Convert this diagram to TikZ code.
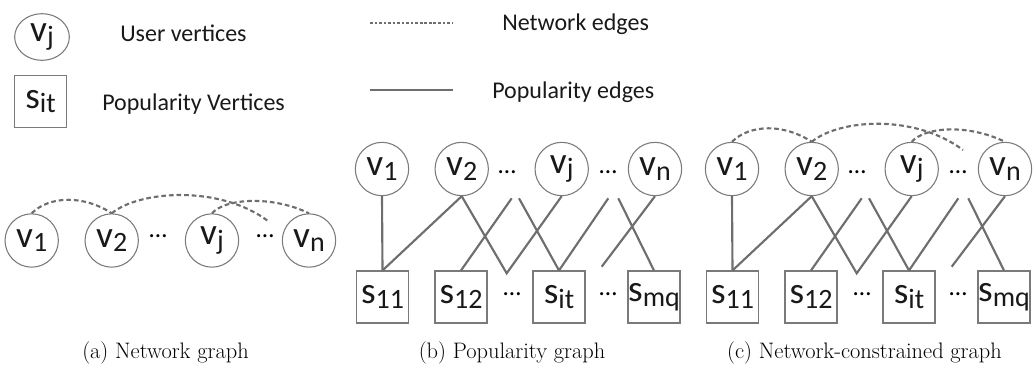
\documentclass[tikz,border=0pt]{standalone}
\usepackage{fontspec}
\usepackage{xcolor}
\usepackage{tikz}
\usetikzlibrary{shapes.geometric, positioning, calc}

\newfontfamily\calibri{Carlito}
\definecolor{edgegray}{HTML}{6E6E6E}
\definecolor{linegray}{HTML}{7A7A7A}
\newcommand{\uv}[1]{{\fontsize{28}{28}\selectfont v}\raisebox{-3.5pt}{\fontsize{21}{21}\selectfont #1}}
\newcommand{\pv}[1]{{\fontsize{28}{28}\selectfont s}\raisebox{-3.5pt}{\fontsize{21}{21}\selectfont #1}}

\begin{document}
\begin{tikzpicture}[
    x=0.75pt, y=-0.75pt,
    uvert/.style={circle, draw=linegray, line width=0.8pt, minimum size=40pt, inner sep=0pt, font=\calibri, text=black!90},
    pvert/.style={rectangle, draw=linegray, line width=0.8pt, minimum size=39pt, inner sep=0pt, font=\calibri, text=black!90},
    netedge/.style={draw=edgegray, line width=1.6pt, dash pattern=on 3.5pt off 2.2pt},
    popedge/.style={draw=edgegray, line width=1.6pt},
    legendtext/.style={anchor=base west, inner sep=0pt, font=\calibri\fontsize{18}{20}\selectfont, text=black!90},
    dotsnode/.style={inner sep=0pt, font=\calibri\fontsize{19}{19}\selectfont},
    caption/.style={anchor=base, inner sep=0pt, font=\fontsize{16.8}{18}\selectfont}
]
    \useasboundingbox (0,0) rectangle (1036,368);

    % Legend: vertices
    \node (lu) [uvert, ellipse, minimum width=41pt, minimum height=35pt] at (42,37) {\uv{j}};
    \node (lutext) [legendtext] at (120,41) {User vertices};
    \node (lp) [pvert] at (40.5,101.5) {\pv{it}};
    \node (lptext) [legendtext] at (102,110) {Popularity Vertices};

    % Legend: edges
    \coordinate (lnet1) at (370,23);
    \coordinate (lnet2) at (453,23);
    \coordinate (lpop1) at (370,90);
    \coordinate (lpop2) at (453,90);
    \draw [draw=edgegray, line width=1.1pt, dash pattern=on 2pt off 1.4pt] (lnet1) -- (lnet2);
    \draw [popedge, line width=1.7pt] (lpop1) -- (lpop2);
    \node (lnettext) [legendtext] at (502,30) {Network edges};
    \node (lpoptext) [legendtext] at (492,98) {Popularity edges};

    % Graph (a): network graph
    \node (a1) [uvert] at (31.7,240.5) {\uv{1}};
    \node (a2) [uvert] at (111.7,240.5) {\uv{2}};
    \node (aj) [uvert] at (212,240.5) {\uv{j}};
    \node (an) [uvert] at (309,240.5) {\uv{n}};
    \node (adots1) [dotsnode] at (158,236) {…};
    \node (adots2) [dotsnode] at (265,236) {…};
    \coordinate (aend) at (268,221);
    \draw [netedge] (a1.north) .. controls +(18,-18) and +(-27,-18) .. (a2.north);
    \draw [netedge] (a2.north) .. controls +(28,-23) and +(-48,-36) .. (aend);
    \draw [netedge] (aj.north) .. controls +(13,-15) and +(-37,-18) .. (an.north);

    % Graph (b): popularity graph
    \node (b1) [uvert] at (382,169) {\uv{1}};
    \node (b2) [uvert] at (461.7,169) {\uv{2}};
    \node (bj) [uvert] at (561.7,169) {\uv{j}};
    \node (bn) [uvert] at (655,169) {\uv{n}};
    \node (bdots1) [dotsnode] at (507,172) {…};
    \node (bdots2) [dotsnode] at (608,172) {…};
    \node (bs11) [pvert] at (382.5,297) {\pv{11}};
    \node (bs12) [pvert] at (461,297) {\pv{12}};
    \node (bsit) [pvert] at (559,297) {\pv{it}};
    \node (bsmq) [pvert] at (654,297) {\pv{mq}};
    \node (bdots3) [dotsnode] at (512,294) {…};
    \node (bdots4) [dotsnode] at (608,294) {…};
    \coordinate (bv) at (506.7,273.3);
    \coordinate (bt1) at (511.7,198.3);
    \coordinate (bt2) at (519,198.3);
    \coordinate (bt3) at (608.3,198.3);
    \coordinate (bt4) at (618.3,198.3);
    \coordinate (bb) at (601.7,266.7);
    \draw [popedge] (b1.south) -- (bs11.north);
    \draw [popedge] (bs11.north) -- (b2.south);
    \draw [popedge] (b2.south) -- (bv) -- (bj.south);
    \draw [popedge] (bs12.north) -- (bt1);
    \draw [popedge] (bt2) -- (bsit.north);
    \draw [popedge] (bsit.north) -- (bt3);
    \draw [popedge] (bt4) -- (bsmq.north);
    \draw [popedge] (bn.south) -- (bb);

    % Graph (c): network-constrained graph
    \node (c1) [uvert] at (732,169) {\uv{1}};
    \node (c2) [uvert] at (811.7,169) {\uv{2}};
    \node (cj) [uvert] at (911.7,169) {\uv{j}};
    \node (cn) [uvert] at (1005,169) {\uv{n}};
    \node (cdots1) [dotsnode] at (857,172) {…};
    \node (cdots2) [dotsnode] at (958,172) {…};
    \node (cs11) [pvert] at (732.5,297) {\pv{11}};
    \node (cs12) [pvert] at (811,297) {\pv{12}};
    \node (csit) [pvert] at (909,297) {\pv{it}};
    \node (csmq) [pvert] at (1004,297) {\pv{mq}};
    \node (cdots3) [dotsnode] at (862,294) {…};
    \node (cdots4) [dotsnode] at (958,294) {…};
    \coordinate (cv) at (856.7,273.3);
    \coordinate (ct1) at (861.7,198.3);
    \coordinate (ct2) at (869,198.3);
    \coordinate (ct3) at (958.3,198.3);
    \coordinate (ct4) at (968.3,198.3);
    \coordinate (cb) at (951.7,266.7);
    \coordinate (cend) at (963,150);
    \draw [popedge] (c1.south) -- (cs11.north);
    \draw [popedge] (cs11.north) -- (c2.south);
    \draw [popedge] (c2.south) -- (cv) -- (cj.south);
    \draw [popedge] (cs12.north) -- (ct1);
    \draw [popedge] (ct2) -- (csit.north);
    \draw [popedge] (csit.north) -- (ct3);
    \draw [popedge] (ct4) -- (csmq.north);
    \draw [popedge] (cn.south) -- (cb);
    \draw [netedge] (c1.north) .. controls +(18,-18) and +(-27,-18) .. (c2.north);
    \draw [netedge] (c2.north) .. controls +(28,-23) and +(-48,-36) .. (cend);
    \draw [netedge] (cj.north) .. controls +(13,-15) and +(-37,-18) .. (cn.north);

    % Captions
    \node (capa) [caption] at (165.5,358) {(a) Network graph};
    \node (capb) [caption] at (512,358) {(b) Popularity graph};
    \node (capc) [caption] at (864.5,358) {(c) Network-constrained graph};

\end{tikzpicture}
\end{document}
